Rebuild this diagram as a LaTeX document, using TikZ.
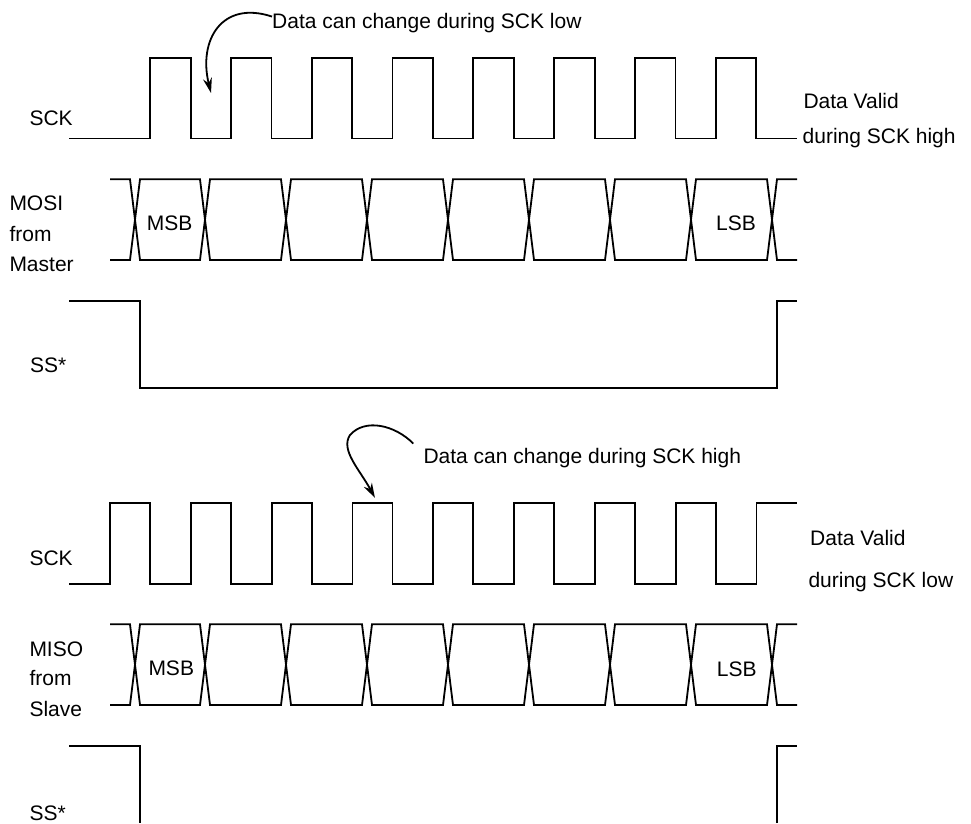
\documentclass[tikz,border=0pt]{standalone}
\usepackage{fontspec}
\setmainfont{Liberation Sans}
\usetikzlibrary{arrows.meta}
\newcommand\mybus[2]{%
  \draw[sig] (110,#1) \foreach \p/\q in {135/205,286/367,448/529,610/691}{ -- ({\p-5},#1) -- ({\p+5},#2) -- ({\q-5},#2) -- ({\q+5},#1)} -- (767,#1) -- (777,#2) -- (797,#2);
  \draw[sig] (110,#2) \foreach \p/\q in {135/205,286/367,448/529,610/691}{ -- ({\p-5},#2) -- ({\p+5},#1) -- ({\q-5},#1) -- ({\q+5},#2)} -- (767,#2) -- (777,#1) -- (797,#1);
}
\begin{document}
\begin{tikzpicture}[x=1pt,y=-1pt,
  sig/.style={line width=1.8pt, line join=miter},
  lbl/.style={anchor=base west, inner sep=0pt, font=\fontsize{21}{25}\selectfont},
  pointer/.style={line width=1.8pt, -{Stealth[length=15pt,width=9pt]}}]
\useasboundingbox (0,0) rectangle (971,823);

% ---------- top panel ----------
\draw[sig] (69,138.5) \foreach \k in {0,...,7}{ -- ({150+80.8*\k},138.5) -- ({150+80.8*\k},58) -- ({190.6+80.8*\k},58) -- ({190.6+80.8*\k},138.5)} -- (797,138.5);
\mybus{179.3}{260}
\draw[sig] (69,301) -- (140,301) -- (140,388) -- (777,388) -- (777,301) -- (797,301);

\node[lbl] (sckA) at (29.3,125) {SCK};
\node[lbl] (mosi1) at (9.3,210) {MOSI};
\node[lbl] (mosi2) at (9.3,241) {from};
\node[lbl] (mosi3) at (9.3,271) {Master};
\node[lbl] (ssA) at (30,372) {SS*};
\node[lbl] (msbA) at (146.7,230.7) {MSB};
\node[lbl] (lsbA) at (716,230.7) {LSB};
\node[lbl] (validA1) at (803.3,108.3) {Data Valid};
\node[lbl] (validA2) at (802.5,143.3) {during SCK high};
\node[lbl] (lowtxt) at (272,28) {Data can change during SCK low};
\coordinate (lowtip) at (211,93);
\draw[pointer] ([yshift=6pt]lowtxt.west) .. controls (222,0) and (198,40) .. (lowtip);

% ---------- bottom panel ----------
\draw[sig] (69,584) \foreach \k in {0,...,7}{ -- ({110+80.8*\k},584) -- ({110+80.8*\k},503) -- ({150+80.8*\k},503) -- ({150+80.8*\k},584)} -- (756.5,584) -- (756.5,503) -- (797,503);
\mybus{624.3}{705}
\draw[sig] (69,746) -- (140,746) -- (140,823);
\draw[sig] (777,823) -- (777,746) -- (797,746);

\node[lbl] (sckB) at (29.3,565) {SCK};
\node[lbl] (miso1) at (29.3,656) {MISO};
\node[lbl] (miso2) at (29.3,685) {from};
\node[lbl] (miso3) at (29.3,716) {Slave};
\node[lbl] (ssB) at (29.3,820) {SS*};
\node[lbl] (msbB) at (148.3,675.5) {MSB};
\node[lbl] (lsbB) at (716.7,676) {LSB};
\node[lbl] (validB1) at (810,545) {Data Valid};
\node[lbl] (validB2) at (808.3,587) {during SCK low};
\node[lbl] (hightxt) at (423.3,463) {Data can change during SCK high};
\coordinate (hightip) at (375,498);
\draw[pointer] ([xshift=-10pt,yshift=14pt]hightxt.west) .. controls (395,425) and (365,418) .. (350,435) .. controls (340,450) and (360,470) .. (hightip);
\end{tikzpicture}
\end{document}
